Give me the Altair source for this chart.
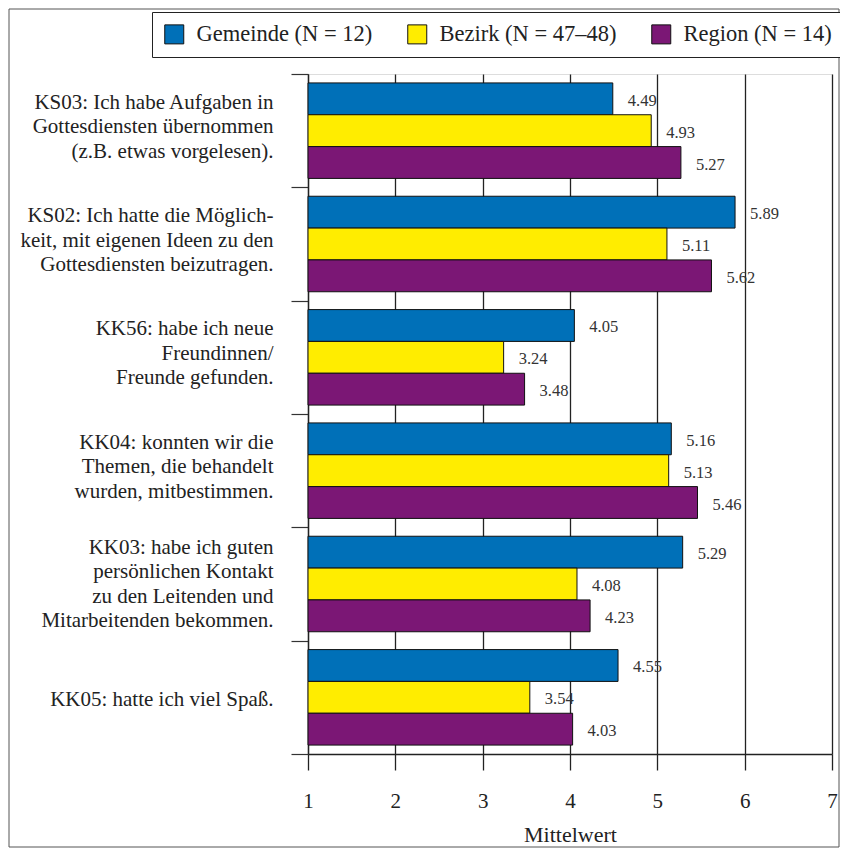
import altair as alt
import pandas as pd

categories = [
    "KS03: Ich habe Aufgaben in|Gottesdiensten übernommen|(z.B. etwas vorgelesen).",
    "KS02: Ich hatte die Möglich-|keit, mit eigenen Ideen zu den|Gottesdiensten beizutragen.",
    "KK56: habe ich neue|Freundinnen/|Freunde gefunden.",
    "KK04: konnten wir die|Themen, die behandelt|wurden, mitbestimmen.",
    "KK03: habe ich guten|persönlichen Kontakt|zu den Leitenden und|Mitarbeitenden bekommen.",
    "KK05: hatte ich viel Spaß.",
]
series = ["Gemeinde (N = 12)", "Bezirk (N = 47–48)", "Region (N = 14)"]
colors = ["#0070B8", "#FFED00", "#7B1775"]
gemeinde = [4.49, 5.89, 4.05, 5.16, 5.29, 4.55]
bezirk = [4.93, 5.11, 3.24, 5.13, 4.08, 3.54]
region = [5.27, 5.62, 3.48, 5.46, 4.23, 4.03]
x_ticks = [1, 2, 3, 4, 5, 6, 7]

rows = []
for vals, s in zip([gemeinde, bezirk, region], series):
    for c, v in zip(categories, vals):
        rows.append({"cat": c, "series": s, "value": v, "base": 1})
df = pd.DataFrame(rows)

FONT = "Liberation Serif"
W, H = 524, 680
LH = 24.5

y_enc = alt.Y(
    "cat:N",
    sort=categories,
    scale=alt.Scale(paddingInner=0, paddingOuter=0),
    axis=alt.Axis(
        title=None,
        tickBand="extent",
        tickSize=17,
        tickColor="#333333",
        tickWidth=1.2,
        domain=True,
        domainColor="#222222",
        domainWidth=1.3,
        labelExpr="split(datum.label, '|')",
        labelFont=FONT,
        labelFontSize=21,
        labelLineHeight=LH,
        labelColor="#222222",
        labelPadding=18,
        labelLimit=400,
        labelBaseline="middle",
        labelOffset={
            "condition": [
                {"test": "length(split(datum.label, '|')) == 4", "value": -1.5 * LH},
                {"test": "length(split(datum.label, '|')) == 3", "value": -LH - 4},
            ],
            "value": 2,
        },
        grid=False,
    ),
)
yoff = alt.YOffset(
    "series:N", sort=series, scale=alt.Scale(paddingOuter=0.28, paddingInner=0)
)

bars = alt.Chart(df).mark_bar(stroke="#111111", strokeWidth=1).encode(
    y=y_enc,
    yOffset=yoff,
    x=alt.X(
        "value:Q",
        scale=alt.Scale(domain=[1, 7], zero=False, nice=False),
        axis=alt.Axis(
            title="Mittelwert",
            values=x_ticks,
            format="d",
            grid=True,
            gridColor="#222222",
            gridWidth=1.3,
            gridOpacity=1,
            tickSize=16,
            tickColor="#222222",
            tickWidth=1.3,
            domain=True,
            domainColor="#222222",
            domainWidth=1.3,
            labelFlush=False,
            labelFont=FONT,
            labelFontSize=21,
            labelColor="#222222",
            labelPadding=20,
            titleFont=FONT,
            titleFontSize=22,
            titleFontWeight="normal",
            titleColor="#222222",
            titlePadding=13,
        ),
    ),
    x2="base:Q",
    color=alt.Color(
        "series:N",
        sort=series,
        scale=alt.Scale(domain=series, range=colors),
        legend=alt.Legend(
            title=None,
            orient="none",
            legendX=-156,
            legendY=-62,
            direction="horizontal",
            symbolType="square",
            symbolSize=361,
            symbolStrokeColor="#111111",
            symbolStrokeWidth=1,
            symbolOpacity=1,
            labelFont=FONT,
            labelFontSize=22.5,
            labelColor="#222222",
            labelOffset=11,
            columnPadding=32,
            padding=11,
            strokeColor="#222222",
            fillColor="white",
            labelLimit=400,
        ),
    ),
)

labels = alt.Chart(df).mark_text(
    align="left", baseline="middle", dx=15, dy=2, font=FONT, fontSize=16.5, color="#333333"
).encode(
    y=alt.Y("cat:N", sort=categories),
    yOffset=alt.YOffset("series:N", sort=series),
    x=alt.X("value:Q"),
    text=alt.Text("value:Q", format=".2f"),
)

frame = alt.Chart(alt.Data(values=[{}])).mark_rect(
    fillOpacity=0, stroke="#555555", strokeWidth=1
).encode(
    x=alt.value(-299), x2=alt.value(W + 7), y=alt.value(-65), y2=alt.value(H + 93)
)

chart = alt.layer(frame, bars, labels).properties(
    width=W,
    height=H,
    autosize=alt.AutoSizeParams(type="none"),
    padding={"left": 300, "top": 66, "right": 8, "bottom": 94},
).configure_view(stroke="#222222", strokeWidth=1.3).configure(
    background="white", font=FONT
)

chart.save("out.html", embed_options={"renderer": "svg", "actions": False})
